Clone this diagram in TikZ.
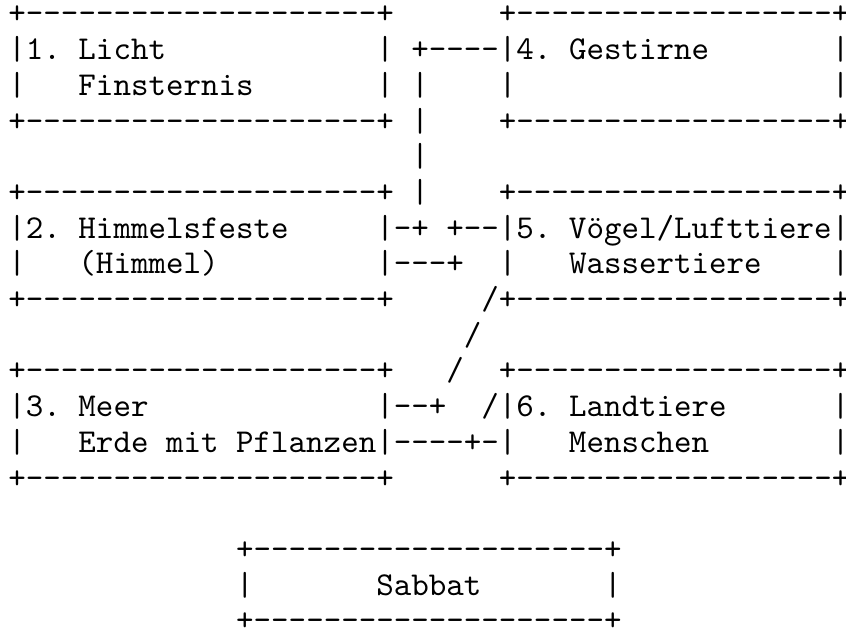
\documentclass[tikz,border=0pt]{standalone}
\usepackage{fontspec}
\setmonofont{lmmono10-regular.otf}
\begin{document}
\begin{tikzpicture}
  [x=17.52pt,y=-35.7pt,every node/.style={anchor=base west,inner sep=0pt,font=\ttfamily\fontsize{33.37}{35.7}\selectfont}]%one node per text row
  \useasboundingbox (-0.47,-0.672) rectangle ++(48.29,17.675);
  \node (l0) at (0,0)   {+--------------------+~~~~~~+------------------+};
  \node (l1) at (0,1)   {|1.~Licht~~~~~~~~~~~~|~+----|4.~Gestirne~~~~~~~|};
  \node (l2) at (0,2)   {|~~~Finsternis~~~~~~~|~|~~~~|~~~~~~~~~~~~~~~~~~|};
  \node (l3) at (0,3)   {+--------------------+~|~~~~+------------------+};
  \node (l4) at (23,4)  {|};
  \node (l5) at (0,5)   {+--------------------+~|~~~~+------------------+};
  \node (l6) at (0,6)   {|2.~Himmelsfeste~~~~~|-+~+--|5.~Vögel/Lufttiere|};
  \node (l7) at (0,7)   {|~~~(Himmel)~~~~~~~~~|---+~~|~~~Wassertiere~~~~|};
  \node (l8) at (0,8)   {+--------------------+~~~~~/+------------------+};
  \node (l9) at (26,9)  {/};
  \node (l10) at (0,10) {+--------------------+~~~/~~+------------------+};
  \node (l11) at (0,11) {|3.~Meer~~~~~~~~~~~~~|--+~~/|6.~Landtiere~~~~~~|};
  \node (l12) at (0,12) {|~~~Erde~mit~Pflanzen|----+-|~~~Menschen~~~~~~~|};
  \node (l13) at (0,13) {+--------------------+~~~~~~+------------------+};

  \node (l15) at (13,15) {+--------------------+};
  \node (l16) at (13,16) {|~~~~~~~Sabbat~~~~~~~|};
  \node (l17) at (13,17) {+--------------------+};
\end{tikzpicture}
\end{document}
